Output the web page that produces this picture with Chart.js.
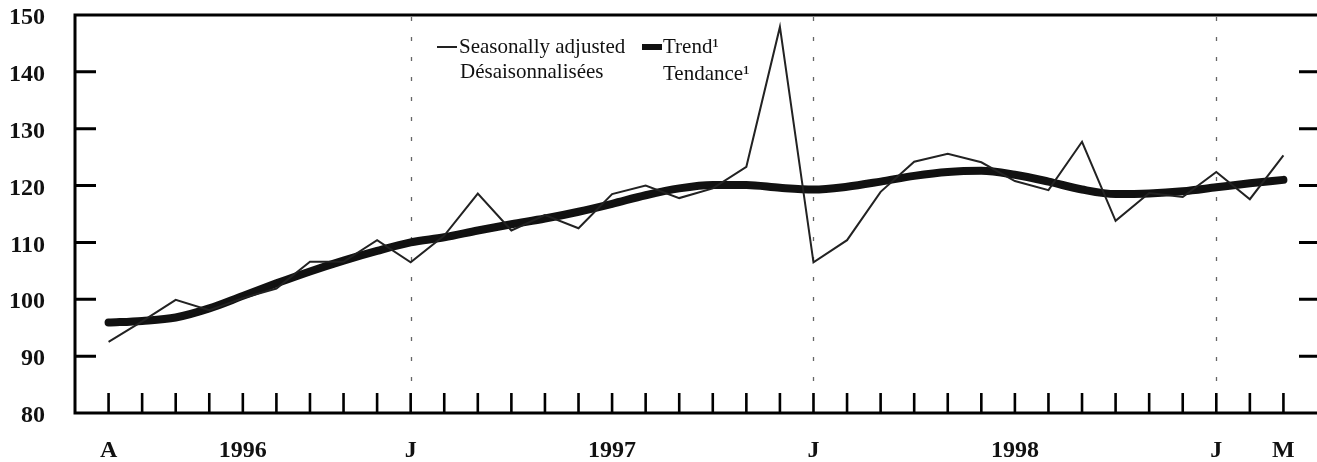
<!DOCTYPE html>
<html lang="en">
<head>
  <meta charset="UTF-8" />
  <title>Seasonally adjusted and trend</title>
  <script src="https://cdn.jsdelivr.net/npm/chart.js"></script>
  <style>
    html, body { margin: 0; padding: 0; background: #fff; }
    #wrap { width: 1317px; height: 462px; position: relative; }
  </style>
</head>
<body>
<div id="wrap"><canvas id="chart"></canvas></div>

<script>
// month labels, April 1996 to March 1999 (only some are shown)
const xLabels = ['A','','','','1996','','','','','J','','','','','','1997','','','','','','J',
                 '','','','','','1998','','','','','','J','','M'];
const yTicks = [80, 90, 100, 110, 120, 130, 140, 150];
const janIndex = [9, 21, 33];

const seasAdj = [92.5, 96.1, 99.9, 98.1, 100.2, 101.9, 106.6, 106.6, 110.4, 106.5,
                 111.2, 118.6, 112.1, 114.8, 112.5, 118.5, 120.0, 117.8, 119.5, 123.3,
                 147.9, 106.5, 110.4, 118.9, 124.2, 125.6, 124.1, 120.8, 119.2, 127.7,
                 113.8, 118.7, 118.0, 122.4, 117.6, 125.3];
const trend = [95.9, 96.2, 96.8, 98.4, 100.6, 102.8, 104.9, 106.8, 108.5, 110.0,
               110.9, 112.1, 113.2, 114.2, 115.4, 116.8, 118.3, 119.5, 120.1, 120.1,
               119.6, 119.3, 119.8, 120.7, 121.7, 122.4, 122.6, 121.9, 120.7, 119.3,
               118.5, 118.6, 119.0, 119.7, 120.4, 121.0];

const seasNames = ['Seasonally adjusted', 'Désaisonnalisées'];
const trendNames = ['Trend¹', 'Tendance¹'];

const toPts = arr => arr.map((v, i) => ({ x: i, y: v }));
const noPad = s => { s.paddingTop = 0; s.paddingBottom = 0; s.paddingLeft = 0; s.paddingRight = 0; };

// frame, inward tick marks, dotted January lines and the legend
const framePlugin = {
  id: 'frame',
  beforeDatasetsDraw(chart) {
    const { ctx, chartArea: a, scales: { x } } = chart;
    ctx.save();
    ctx.strokeStyle = '#666';
    ctx.lineWidth = 1.3;
    ctx.setLineDash([4, 16]);
    janIndex.forEach(i => {
      const px = Math.round(x.getPixelForValue(i)) + 0.5;
      ctx.beginPath();
      ctx.moveTo(px, a.top + 2);
      ctx.lineTo(px, a.bottom - 20);
      ctx.stroke();
    });
    ctx.restore();
  },
  afterDraw(chart) {
    const { ctx, chartArea: a, scales: { x, y } } = chart;
    ctx.save();
    ctx.strokeStyle = '#000';
    ctx.lineWidth = 3;
    ctx.beginPath();
    ctx.moveTo(a.left, a.top); ctx.lineTo(a.right, a.top);
    ctx.moveTo(a.left, a.top - 1.5); ctx.lineTo(a.left, a.bottom + 1.5);
    ctx.moveTo(a.left, a.bottom); ctx.lineTo(a.right, a.bottom);
    yTicks.slice(1, -1).forEach(v => {
      const py = y.getPixelForValue(v);
      ctx.moveTo(a.left, py); ctx.lineTo(a.left + 21, py);
      ctx.moveTo(a.right - 18, py); ctx.lineTo(a.right, py);
    });
    ctx.stroke();
    ctx.lineWidth = 2.6;
    ctx.beginPath();
    xLabels.forEach((_, i) => {
      const px = x.getPixelForValue(i);
      ctx.moveTo(px, a.bottom); ctx.lineTo(px, a.bottom - 20);
    });
    ctx.stroke();

    // legend
    ctx.lineCap = 'butt';
    ctx.strokeStyle = '#222';
    ctx.lineWidth = 2;
    ctx.beginPath(); ctx.moveTo(437, 47); ctx.lineTo(457, 47); ctx.stroke();
    ctx.strokeStyle = '#111';
    ctx.lineWidth = 6;
    ctx.beginPath(); ctx.moveTo(642, 47); ctx.lineTo(662, 47); ctx.stroke();
    ctx.fillStyle = '#111';
    ctx.font = '21px "Liberation Serif", "Times New Roman", serif';
    ctx.textBaseline = 'alphabetic';
    ctx.fillText(seasNames[0], 459, 53);
    ctx.fillText(seasNames[1], 460, 78);
    ctx.fillText(trendNames[0], 663, 53);
    ctx.fillText(trendNames[1], 663, 80);
    ctx.restore();
  }
};

const tickFont = { family: '"Liberation Serif", "Times New Roman", serif', size: 24, weight: 'bold' };

new Chart(document.getElementById('chart'), {
  type: 'line',
  data: {
    datasets: [
      { label: seasNames.join(' '), data: toPts(seasAdj), borderColor: '#222', borderWidth: 2,
        pointRadius: 0, tension: 0, fill: false },
      { label: trendNames.join(' '), data: toPts(trend), borderColor: '#111', borderWidth: 8,
        pointRadius: 0, cubicInterpolationMode: 'monotone', borderCapStyle: 'round', fill: false }
    ]
  },
  options: {
    responsive: true,
    maintainAspectRatio: false,
    animation: false,
    layout: { padding: { top: 15, right: 0, bottom: 0, left: 0 } },
    plugins: { legend: { display: false }, tooltip: { enabled: false } },
    scales: {
      x: {
        type: 'linear', min: -1, max: 36,
        grid: { display: false, drawTicks: false }, border: { display: false },
        afterBuildTicks: s => { s.ticks = xLabels.map((_, i) => ({ value: i })); },
        afterFit: s => { s.height = 49; noPad(s); },
        ticks: {
          autoSkip: false, maxRotation: 0, padding: 23, color: '#111', font: tickFont,
          callback: v => xLabels[v] || ''
        }
      },
      y: {
        min: 80, max: 150,
        grid: { display: false, drawTicks: false }, border: { display: false },
        afterBuildTicks: s => { s.ticks = yTicks.map(v => ({ value: v })); },
        afterFit: s => { s.width = 75; noPad(s); },
        ticks: { padding: 30, labelOffset: 3, color: '#111', font: tickFont }
      }
    }
  },
  plugins: [framePlugin]
});
</script>
</body>
</html>
